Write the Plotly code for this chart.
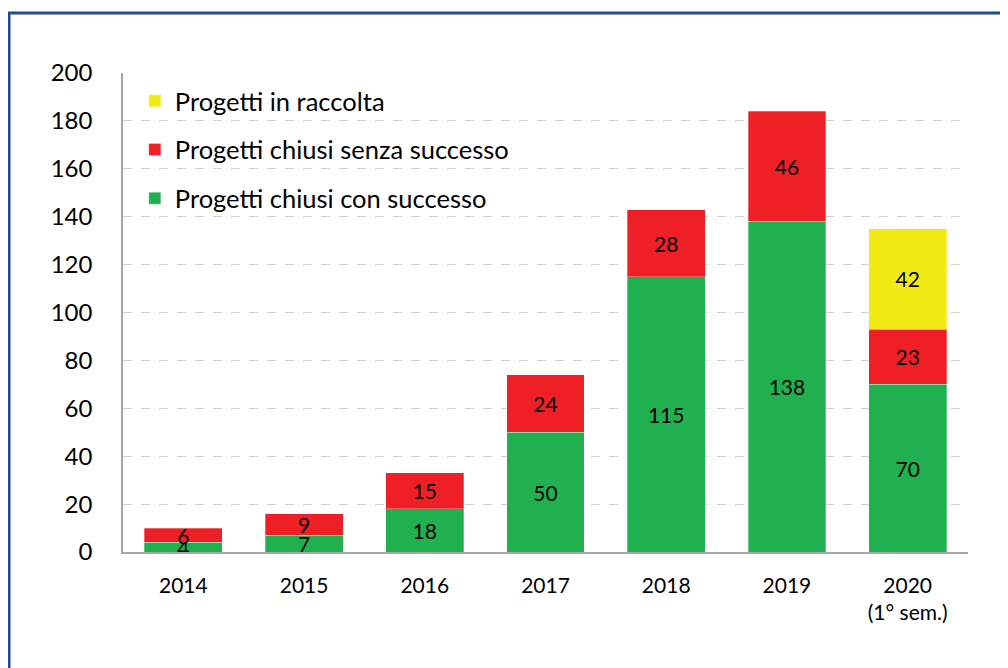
import plotly.graph_objects as go

categories = ["2014", "2015", "2016", "2017", "2018", "2019", "2020<br>(1° sem.)"]
successo = [4, 7, 18, 50, 115, 138, 70]
senza_successo = [6, 9, 15, 24, 28, 46, 23]
in_raccolta = [None, None, None, None, None, None, 42]

names = ["Progetti chiusi con successo", "Progetti chiusi senza successo", "Progetti in raccolta"]
colors = ["#21B04F", "#EE1F25", "#F2EA14"]
series = [successo, senza_successo, in_raccolta]
ranks = [3, 2, 1]

FONT = "Lato"

# page body adds an 8px offset; margins compensate for it
L, T, R, B = 115, 65, 48, 124
PW = 1008 - L - R
PH = 668 - T - B

fig = go.Figure()
for i, (nm, col, vals) in enumerate(zip(names, colors, series)):
    fig.add_trace(go.Bar(
        x=categories, y=vals, name=nm,
        marker=dict(color=col, line=dict(color="rgba(255,255,255,0.6)", width=0.5)),
        text=[("" if v is None else str(v)) for v in vals],
        textposition="inside", insidetextanchor="middle", textangle=0,
        textfont=dict(family=FONT, size=21, color="black"),
        legendgroup=f"g{i}", legendrank=ranks[i],
        constraintext="none",
    ))

fig.update_layout(
    barmode="stack",
    bargap=0.355,
    width=1008, height=668,
    margin=dict(l=L, r=R, t=T, b=B, autoexpand=False),
    paper_bgcolor="white", plot_bgcolor="white",
    font=dict(family=FONT, size=22, color="black"),
    uniformtext=dict(minsize=21, mode="show"),
    legend=dict(
        x=0.014, y=0.99, xanchor="left", yanchor="top",
        traceorder="grouped", tracegroupgap=12.5,
        font=dict(family=FONT, size=25.5, color="black"),
        bgcolor="rgba(0,0,0,0)",
    ),
    showlegend=True,
)
fig.update_yaxes(
    range=[0, 200], dtick=20, automargin=False,
    showgrid=True, gridcolor="#D0D0D0", griddash="dash", gridwidth=1,
    showline=True, linecolor="#A6A6A6", linewidth=1.5,
    tickfont=dict(family=FONT, size=24, color="black"),
    ticklabelstandoff=24, zeroline=False,
)
fig.update_xaxes(
    showline=True, linecolor="#A6A6A6", linewidth=1.5, automargin=False,
    tickfont=dict(family=FONT, size=21, color="black"),
    ticklabelstandoff=14,
)
fig.add_shape(
    type="rect", xref="paper", yref="paper",
    x0=(1 - L) / PW, x1=1.2, y0=-0.3, y1=(PH + T - 5) / PH,
    line=dict(color="#1F4E8C", width=3), fillcolor="rgba(0,0,0,0)", layer="below",
)
fig.write_html("out.html")
